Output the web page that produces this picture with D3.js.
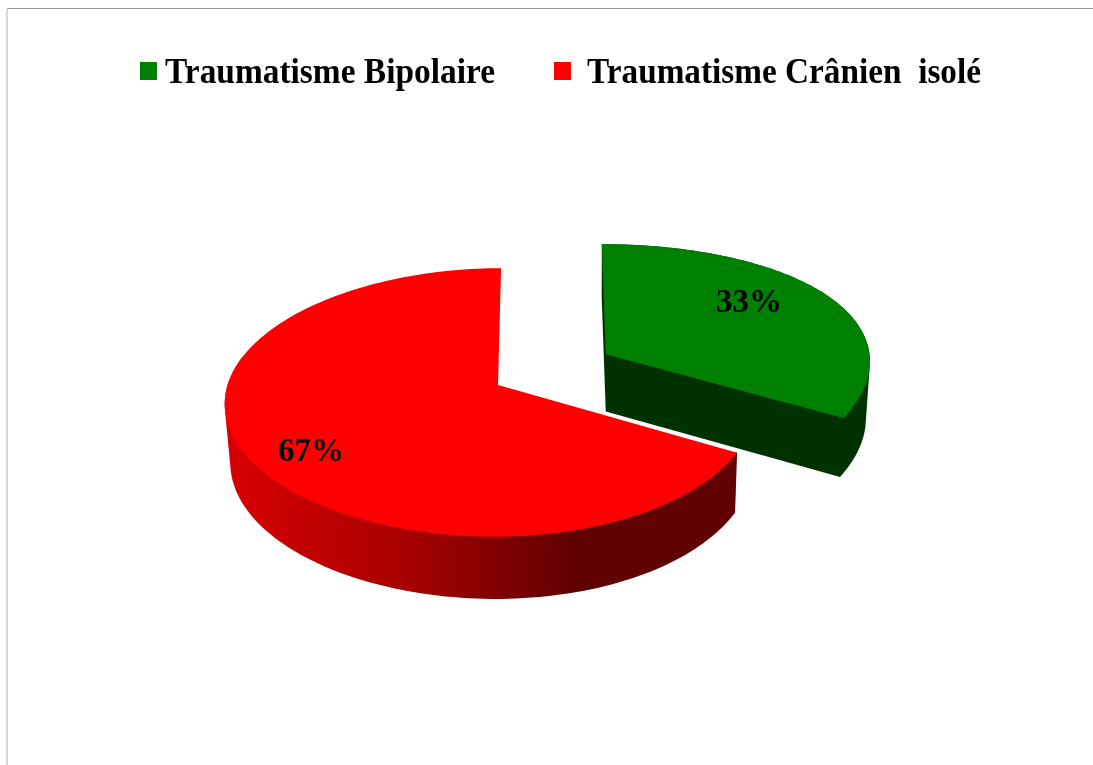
<!DOCTYPE html>
<html><head><meta charset="utf-8">
<script src="https://cdnjs.cloudflare.com/ajax/libs/d3/7.8.5/d3.min.js"></script>
<style>html,body{margin:0;padding:0;background:#fff}svg{display:block}</style>
</head><body><svg id="c" width="1093" height="765"></svg>
<script>
const categories = ["Traumatisme Bipolaire", "Traumatisme Crânien  isolé"];
const values = [33, 67];
const labels = ["33%", "67%"];
const topColors = ["#008000", "#ff0000"];
const wallColors = ["#003300", "url(#redWall)"];
const explode = [0.47, 0];

const W = 1093, H = 765;
const cx = 498, cy = 385, Ry = 132, p = 0.13, depth = 58, vpx = 600, shrink = 0.985;
// horizontal perspective settings for each slice
const sliceRx = [270, 263], sliceX0 = [498, 525], slicePx = [0.04, 0.13], sliceQ = [0.008, 0.025];
const svg = d3.select("#c");

const defs = svg.append("defs");
const g = defs.append("linearGradient").attr("id","redWall").attr("gradientUnits","userSpaceOnUse")
  .attr("x1",226).attr("x2",738).attr("y1",0).attr("y2",0);
[[0,"#d80000"],[0.35,"#a80000"],[0.68,"#600000"],[1,"#600000"]].forEach(s=>g.append("stop").attr("offset",s[0]).attr("stop-color",s[1]));
const blur = defs.append("filter").attr("id","soft").attr("filterUnits","userSpaceOnUse")
  .attr("x",0).attr("y",0).attr("width",W).attr("height",H);
blur.append("feGaussianBlur").attr("stdDeviation",0.5);

// frame
svg.append("line").attr("x1",7).attr("x2",W).attr("y1",8.5).attr("y2",8.5).attr("stroke","#999").attr("stroke-width",1.2);
svg.append("line").attr("x1",7).attr("x2",7).attr("y1",9).attr("y2",H).attr("stroke","#c8c8c8").attr("stroke-width",1.4);

function project(i, u, n, z) {
  const f = 1 / (1 + p * n), fx = 1 / (1 + slicePx[i] * n + sliceQ[i] * u), x0 = sliceX0[i];
  let X = x0 + (cx + sliceRx[i] * u - x0) * fx, Y = cy - Ry * n * f;
  if (z) { X = vpx + (X - vpx) * shrink; Y += depth * Math.sqrt(f); }
  return [X, Y];
}
const line = d3.line();
const pie = d3.pie().sort(null);
const arcs = pie(values);

function rimPts(d, i, z, front) {
  const e = explode[i], mid = (d.startAngle + d.endAngle) / 2, ox = e * Math.sin(mid), oy = e * Math.cos(mid);
  const N = 160;
  return d3.range(N + 1).map(k => d.startAngle + (d.endAngle - d.startAngle) * k / N)
    .filter(a => !front || Math.cos(a) < 0.25)
    .map(a => project(i, ox + Math.sin(a), oy + Math.cos(a), z));
}
function apex(d, i, z) {
  const e = explode[i], mid = (d.startAngle + d.endAngle) / 2;
  return project(i, e * Math.sin(mid), e * Math.cos(mid), z);
}

const chart = svg.append("g").attr("filter","url(#soft)");
const slices = chart.append("g").selectAll("g").data(arcs).join("g");
slices.each(function(d, i) {
  const s = d3.select(this);
  const top = rimPts(d, i, false, false);
  const at = apex(d, i, false), ab = apex(d, i, true);
  // solid body: hull of the upper and lower rims, with the top face laid over it
  const body = i === 0
    ? top.concat(rimPts(d, i, true, false), [at, ab])
    : rimPts(d, i, false, true).concat(rimPts(d, i, true, true));
  s.append("path").attr("d", line(d3.polygonHull(body)) + "Z").attr("fill", wallColors[i]);
  s.append("path").attr("d", line([at].concat(top)) + "Z").attr("fill", topColors[i]);
});

// value labels
const labelPos = [[749, 301], [311, 450]];
chart.append("g").selectAll("text").data(labels).join("text")
  .attr("x",(d,i)=>labelPos[i][0]).attr("y",(d,i)=>labelPos[i][1]+11)
  .attr("text-anchor","middle").attr("font-family","Liberation Serif").attr("font-weight","bold").attr("font-size",33)
  .attr("fill","#000").text(d=>d);

// legend
const legendX = [140, 554], textX = [165, 587], textW = [330, 394];
const lg = chart.append("g").selectAll("g").data(categories).join("g");
lg.append("rect").attr("x",(d,i)=>legendX[i]).attr("y",62).attr("width",17).attr("height",18).attr("fill",(d,i)=>topColors[i]);
lg.append("text").attr("x",(d,i)=>textX[i]).attr("y",83).attr("xml:space","preserve").style("white-space","pre")
  .attr("font-family","Liberation Serif").attr("font-weight","bold").attr("font-size",36)
  .attr("textLength",(d,i)=>textW[i]).attr("lengthAdjust","spacingAndGlyphs").attr("fill","#000").text(d=>d);
</script></body></html>
